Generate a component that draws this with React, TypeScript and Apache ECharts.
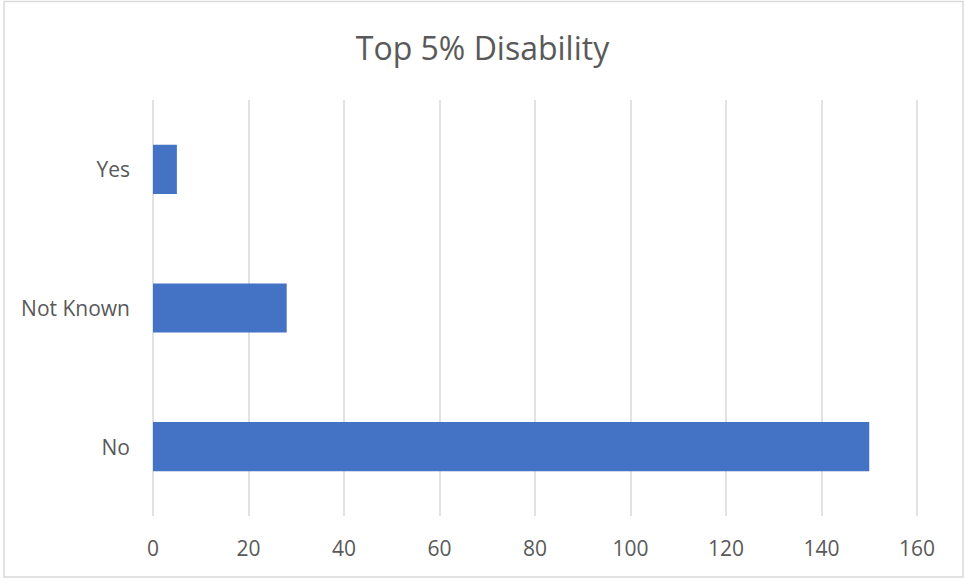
import React, { useEffect, useRef } from "react";
import * as echarts from "echarts";

const categories = ["No", "Not Known", "Yes"];
const values = [150, 28, 5];
const titleText = "Top 5% Disability";
const axisMin = 0;
const axisMax = 160;
const axisInterval = 20;

export default function App() {
  const ref = useRef<HTMLDivElement>(null);
  useEffect(() => {
    document.body.style.margin = "0";
    const chart = echarts.init(ref.current!, null, { renderer: "svg" });
    const font = "'Open Sans', 'Noto Sans', sans-serif";
    chart.setOption({
      animation: false,
      backgroundColor: "#ffffff",
      title: {
        text: titleText,
        left: "center",
        top: 26,
        textStyle: { color: "#595959", fontSize: 32, fontWeight: "normal", fontFamily: font },
      },
      graphic: [
        {
          type: "rect",
          shape: { x: 4, y: 1.5, width: 959, height: 575.5 },
          style: { fill: "none", stroke: "#d9d9d9", lineWidth: 1.5 },
          silent: true,
          z: 0,
        },
      ],
      grid: { left: 153, right: 48, top: 100, bottom: 63, containLabel: false },
      xAxis: {
        type: "value",
        min: axisMin,
        max: axisMax,
        interval: axisInterval,
        axisLine: { show: false },
        axisTick: { show: false },
        splitLine: { show: true, lineStyle: { color: "#d9d9d9", width: 1.5 } },
        axisLabel: { color: "#595959", fontSize: 21, fontFamily: font, margin: 21 },
      },
      yAxis: {
        type: "category",
        data: categories,
        axisLine: { show: false },
        axisTick: { show: false },
        axisLabel: { color: "#595959", fontSize: 21, fontFamily: font, margin: 23 },
      },
      series: [
        {
          type: "bar",
          data: values,
          barWidth: "35.4%",
          itemStyle: { color: "#4472C4" },
        },
      ],
    });
    return () => chart.dispose();
  }, []);
  return (
    <div
      ref={ref}
      style={{ position: "absolute", left: 0, top: 0, width: 965, height: 579 }}
    />
  );
}
